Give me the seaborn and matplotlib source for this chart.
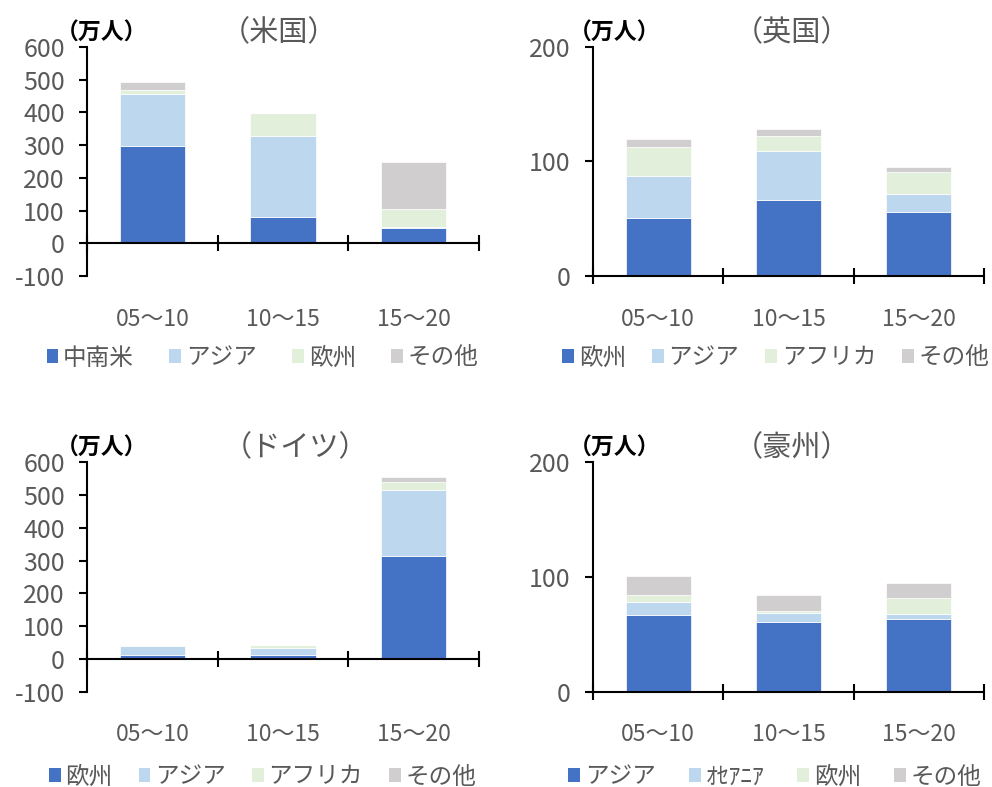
import numpy as np
import matplotlib
matplotlib.use("Agg")
import matplotlib.pyplot as plt
import matplotlib.patches as mpatches
import seaborn as sns

sns.set_style("white")
plt.rcParams['font.family'] = ['Noto Sans CJK JP', 'DejaVu Sans']
plt.rcParams['axes.unicode_minus'] = False

periods = ['05～10', '10～15', '15～20']
colors = ['#4472C4', '#BDD7EE', '#E2EFDA', '#D0CECE']
gray = '#595959'

# 米国
us_regions = ['中南米', 'アジア', '欧州', 'その他']
us_values = [[298, 80, 47], [159, 248, 2], [10, 69, 56], [26, 2, 143]]
# 英国
uk_regions = ['欧州', 'アジア', 'アフリカ', 'その他']
uk_values = [[51, 66.5, 56], [36.5, 43, 16], [25, 13, 18.7], [7, 6, 4.3]]
# ドイツ
de_regions = ['欧州', 'アジア', 'アフリカ', 'その他']
de_values = [[11, 11, 314], [29, 23, 202], [1, 8, 24], [0, 1, 15]]
# 豪州
au_regions = ['アジア', 'ｵｾｱﾆｱ', '欧州', 'その他']
au_values = [[67, 61, 63], [11, 8, 5], [6.5, 1, 14], [16, 14.5, 13]]


def draw_panel(ax, title, regions, values, yticks, title_x, unit_x, leg_x, leg_y, colsp):
    bottom = np.zeros(len(periods))
    for reg, vals, col in zip(regions, values, colors):
        sns.barplot(x=periods, y=vals, bottom=bottom, color=col, saturation=1,
                    width=0.5, edgecolor='white', linewidth=0.5, ax=ax)
        bottom = bottom + np.array(vals)

    ax.set_xlim(-0.5, 2.5)
    ax.set_ylim(yticks[0], yticks[-1])
    ax.set_yticks(yticks)
    ax.set_xticks([-0.5, 0.5, 1.5, 2.5])
    ax.set_xticklabels([])
    ax.set_xlabel('')
    ax.set_ylabel('')
    ax.spines['bottom'].set_position(('data', 0))
    ax.spines[['top', 'right']].set_visible(False)
    for s in ['left', 'bottom']:
        ax.spines[s].set_color('black')
        ax.spines[s].set_linewidth(1.5)
    ax.tick_params(axis='x', direction='inout', length=12, width=1.5, color='black', bottom=True)
    ax.tick_params(axis='y', direction='out', length=6, width=1.5, color='black', left=True,
                   labelsize=18, labelcolor=gray, pad=10)

    for i, p in enumerate(periods):
        ax.text(i, -0.188, p, transform=ax.get_xaxis_transform(), ha='center', va='center',
                fontsize=16.5, color=gray)

    ax.text(title_x, 1.06, title, transform=ax.transAxes, ha='center', va='center',
            fontsize=21, color=gray)
    ax.text(unit_x, 1.06, '（万人）', transform=ax.transAxes, ha='center', va='center',
            fontsize=16.5, fontweight='bold', color='black')

    handles = [mpatches.Patch(facecolor=c, edgecolor='none') for c in colors]
    ax.legend(handles, regions, loc='center', bbox_to_anchor=(leg_x, leg_y), ncol=4,
              frameon=False, fontsize=17, handlelength=0.5, handleheight=0.55,
              handletextpad=0.2, columnspacing=colsp, labelcolor=gray)


fig = plt.figure(figsize=(9.92, 7.87), dpi=100)
ax1 = fig.add_axes([0.0877, 0.6493, 0.3952, 0.2910])
ax2 = fig.add_axes([0.5978, 0.6493, 0.3942, 0.2910])
ax3 = fig.add_axes([0.0877, 0.1211, 0.3952, 0.2915])
ax4 = fig.add_axes([0.5978, 0.1211, 0.3942, 0.2915])

draw_panel(ax1, '（米国）', us_regions, us_values, list(range(-100, 601, 100)),
           0.49, 0.038, 0.448, -0.358, 1.5)
draw_panel(ax2, '（英国）', uk_regions, uk_values, [0, 100, 200],
           0.508, 0.055, 0.468, -0.358, 1.1)
draw_panel(ax3, '（ドイツ）', de_regions, de_values, list(range(-100, 601, 100)),
           0.532, 0.038, 0.448, -0.372, 1.1)
draw_panel(ax4, '（豪州）', au_regions, au_values, [0, 100, 200],
           0.508, 0.055, 0.465, -0.372, 1.4)

fig.savefig('out.png', dpi=100)
